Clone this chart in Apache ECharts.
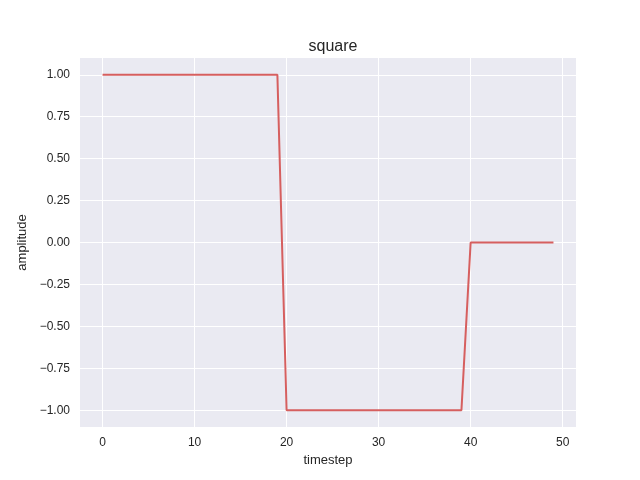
<!DOCTYPE html>
<html>
<head>
<meta charset="utf-8">
<script src="https://cdn.jsdelivr.net/npm/echarts@6/dist/echarts.min.js"></script>
<style>
  html, body { margin: 0; padding: 0; background: #fff; }
  #chart { width: 640px; height: 480px; }
</style>
</head>
<body>
<div id="chart"></div>
<script>
// square wave, 50 timesteps
const timesteps = [];
for (let i = 0; i < 50; i++) timesteps.push(i);
const amplitude = [
	1, 1, 1, 1, 1, 1, 1, 1, 1, 1,
	1, 1, 1, 1, 1, 1, 1, 1, 1, 1,
	-1, -1, -1, -1, -1, -1, -1, -1, -1, -1,
	-1, -1, -1, -1, -1, -1, -1, -1, -1, -1,
	0, 0, 0, 0, 0, 0, 0, 0, 0, 0
];
const xTicks = [0, 10, 20, 30, 40, 50];
const yTicks = [-1, -0.75, -0.5, -0.25, 0, 0.25, 0.5, 0.75, 1];

const textColor = '#262626';
const font = 'Liberation Sans, Arial, sans-serif';

function fmtY(v) {
	const s = Math.abs(v).toFixed(2);
	return v < 0 ? '\u2212' + s : s;
}

var chartDom = document.getElementById('chart');
var myChart = echarts.init(chartDom, null, { renderer: 'canvas' });

var option = {
	animation: false,
	backgroundColor: '#ffffff',
	title: {
		text: 'square',
		left: 328,
		top: 34,
		textAlign: 'center',
		textStyle: { color: textColor, fontFamily: font, fontSize: 16, fontWeight: 'normal' }
	},
	grid: {
		left: 80, right: 64, top: 58, bottom: 53,
		show: true, backgroundColor: '#eaeaf2', borderWidth: 0
	},
	xAxis: {
		type: 'value',
		min: -2.45,
		max: 51.45,
		name: 'timestep',
		nameLocation: 'middle',
		nameGap: 27,
		nameTextStyle: { color: textColor, fontFamily: font, fontSize: 13 },
		axisLine: { show: false },
		axisTick: { show: false, customValues: xTicks },
		axisLabel: {
			customValues: xTicks,
			color: textColor, fontFamily: font, fontSize: 12, margin: 10
		},
		splitLine: { show: true, lineStyle: { color: '#ffffff', width: 1 } }
	},
	yAxis: {
		type: 'value',
		min: -1.1,
		max: 1.1,
		name: 'amplitude',
		nameLocation: 'middle',
		nameGap: 51,
		nameTextStyle: { color: textColor, fontFamily: font, fontSize: 13 },
		axisLine: { show: false },
		axisTick: { show: false, customValues: yTicks },
		axisLabel: {
			customValues: yTicks,
			formatter: fmtY,
			color: textColor, fontFamily: font, fontSize: 12, margin: 10
		},
		splitLine: { show: true, lineStyle: { color: '#ffffff', width: 1 } }
	},
	series: [{
		type: 'line',
		data: timesteps.map((t, i) => [t, amplitude[i]]),
		showSymbol: false,
		lineStyle: { color: '#d65f5f', width: 2 },
		clip: false
	}]
};

option && myChart.setOption(option);
</script>
</body>
</html>
